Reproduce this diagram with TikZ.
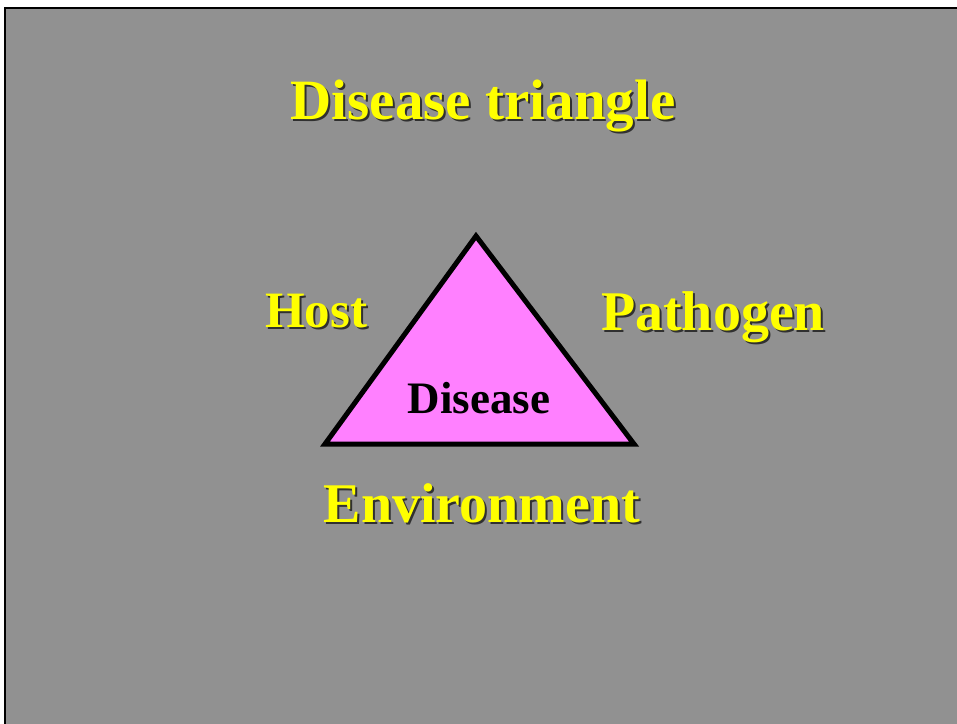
\documentclass[tikz,border=0pt]{standalone}
\usepackage{fontspec}
\setmainfont{Liberation Serif}
\usepackage{xcolor}
\definecolor{slidegray}{HTML}{919191}
\definecolor{slideyellow}{HTML}{FFFF00}
\definecolor{slidepink}{HTML}{FF80FF}
\definecolor{shadowgray}{HTML}{303030}
\newcommand{\shadowed}[1]{\rlap{\hspace{2pt}\raisebox{-2pt}{\color{shadowgray}#1}}#1}
\tikzset{
  yellowtext/.style={text=slideyellow, font=\bfseries\fontsize{#1}{#1}\selectfont, inner sep=0pt}
}
\begin{document}
\begin{tikzpicture}[x=1pt,y=-1pt]
                \useasboundingbox (0,0) rectangle (957,723);
                \fill[slidegray] (5,8) rectangle (960,726);
                \draw[black, line width=2.5pt] (5,726)--(5,8)--(960,8);
                \node[yellowtext=57] (title) at (483,107) {\shadowed{Disease triangle}};
                \coordinate (apex) at (476,236);
                \coordinate (bl) at (325,444);
                \coordinate (br) at (634,444);
                \draw[black, fill=slidepink, line width=5pt, line join=miter] (apex)--(br)--(bl)--cycle;
                \node[text=black, font=\bfseries\fontsize{45}{45}\selectfont, inner sep=0pt] (disease) at (479,398) {Disease};
                \node[yellowtext=51] (host) at (316,312) {\shadowed{Host}};
                \node[yellowtext=56] (pathogen) at (713,318) {\shadowed{Pathogen}};
                \node[yellowtext=56] (env) at (482,504) {\shadowed{Environment}};
            \end{tikzpicture}
\end{document}
